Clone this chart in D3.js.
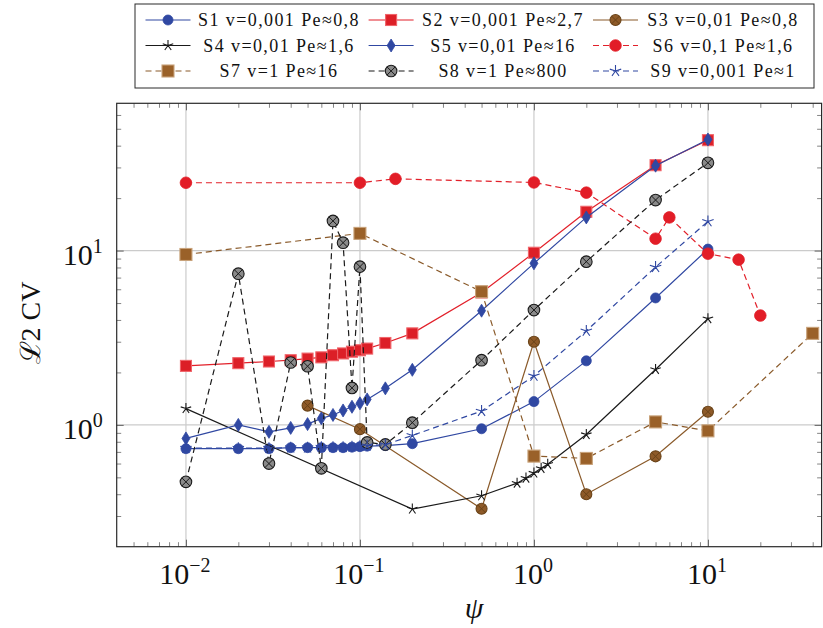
<!DOCTYPE html>
<html><head><meta charset="utf-8">
<script src="https://cdn.jsdelivr.net/npm/d3@7"></script>
<style>body{margin:0;background:#fff}svg{display:block}</style>
</head><body>
<svg id="c" width="823" height="628"></svg>
<script>
// ---------------- data ----------------
const xFine = [0.01,0.02,0.03,0.04,0.05,0.06,0.07,0.08,0.09,0.1,0.11,0.14,0.2,0.5,1,2,5,10];
const s1Y = [0.73,0.73,0.73,0.74,0.74,0.74,0.74,0.74,0.745,0.75,0.755,0.76,0.78,0.95,1.36,2.33,5.35,10.2];
const s2Y = [2.18,2.26,2.31,2.35,2.40,2.44,2.51,2.57,2.63,2.68,2.74,2.95,3.35,5.75,9.72,16.7,30.9,43];
const s3X = [0.05,0.1,0.5,1,2,5,10];
const s3Y = [1.29,0.945,0.33,3.0,0.40,0.66,1.19];
const s4X = [0.01,0.2,0.5,0.8,0.9,1,1.1,1.2,2,5,10];
const s4Y = [1.24,0.329,0.392,0.463,0.495,0.529,0.563,0.595,0.88,2.08,4.07];
const s5Y = [0.836,1.0,0.912,0.961,1.01,1.09,1.14,1.21,1.27,1.33,1.40,1.62,2.07,4.52,8.45,15.5,30.7,43.4];
const s6X = [0.01,0.1,0.16,1,2,5,6,10,15,20];
const s6Y = [24.5,24.5,25.8,24.6,21.5,11.7,15.5,9.6,8.87,4.24];
const s7X = [0.01,0.1,0.5,1,2,5,10,40];
const s7Y = [9.5,12.55,5.81,0.662,0.642,1.04,0.924,3.35];
const s8Y = [0.471,7.37,0.60,2.28,2.17,0.563,14.8,11.1,1.63,8.09,0.793,0.772,1.03,2.35,4.56,8.64,19.5,31.9];
const s9Y = [0.735,0.735,0.735,0.74,0.74,0.745,0.745,0.745,0.75,0.755,0.76,0.77,0.87,1.20,1.91,3.46,8.04,14.7];
const seriesNames = ["S1 v=0,001 Pe≈0,8","S2 v=0,001 Pe≈2,7","S3 v=0,01 Pe≈0,8",
                     "S4 v=0,01 Pe≈1,6","S5 v=0,01 Pe≈16","S6 v=0,1 Pe≈1,6",
                     "S7 v=1 Pe≈16","S8 v=1 Pe≈800","S9 v=0,001 Pe≈1"];
const xTickVals = [0.01,0.1,1,10];
const xTickExp = ["−2","−1","0","1"];
const yTickVals = [1,10];
const yTickExp = ["0","1"];

// ---------------- styles ----------------
const BLUE="#3048a2", RED="#e2202a", BROWN="#8a5a2a", BLACK="#1a1a1a";
const styles = [
  {c:BLUE, dash:null, m:"circle", fill:BLUE, stroke:BLUE, s:5},
  {c:RED, dash:null, m:"square", fill:"#dc1f27", stroke:"#f0646a", s:5.5},
  {c:BROWN, dash:null, m:"otimes", fill:"#8e5a28", stroke:"#6a4318", s:5.5},
  {c:BLACK, dash:null, m:"star", fill:"none", stroke:BLACK, s:5.5},
  {c:BLUE, dash:null, m:"diamond", fill:BLUE, stroke:BLUE, s:5},
  {c:RED, dash:"6,4", m:"circle", fill:"#e21d27", stroke:"#e21d27", s:5.8},
  {c:BROWN, dash:"6,4", m:"square", fill:"#9a6129", stroke:"#c8a27a", s:6},
  {c:BLACK, dash:"6,4", m:"otimes", fill:"#8a8a8a", stroke:"#1a1a1a", s:5.8},
  {c:BLUE, dash:"6,4", m:"star", fill:"none", stroke:BLUE, s:6}
];
const seriesData = [
  [xFine,s1Y],[xFine,s2Y],[s3X,s3Y],[s4X,s4Y],[xFine,s5Y],
  [s6X,s6Y],[s7X,s7Y],[xFine,s8Y],[xFine,s9Y]
];

// ---------------- layout ----------------
const P = {l:116.7, r:821.6, t:103.3, b:546.7};
const x = d3.scaleLog().domain([0.004,45]).range([P.l,P.r]);
const y = d3.scaleLog().domain([0.2,70]).range([P.b,P.t]);
const svg = d3.select("#c");
const FONT = "Liberation Serif";

// grid
const grid = svg.append("g").attr("stroke","#cbcbcb").attr("stroke-width",1.2);
xTickVals.forEach(v=>grid.append("line").attr("x1",x(v)).attr("x2",x(v)).attr("y1",P.t).attr("y2",P.b));
yTickVals.forEach(v=>grid.append("line").attr("y1",y(v)).attr("y2",y(v)).attr("x1",P.l).attr("x2",P.r));

// minor tick values
function minors(scale){
  const [a,b]=scale.domain(); const out=[];
  for(let e=Math.floor(Math.log10(a)); e<=Math.ceil(Math.log10(b)); e++)
    for(let k=2;k<=9;k++){const v=k*Math.pow(10,e); if(v>a&&v<b) out.push(v);}
  return out;
}
function styleAxis(g,col){ g.select(".domain").remove(); g.selectAll("line").attr("stroke",col).attr("stroke-width",0.9); }
const xMin = minors(x), yMin = minors(y);
[[d3.axisBottom,P.b],[d3.axisTop,P.t]].forEach(([f,pos])=>{
  svg.append("g").attr("transform",`translate(0,${pos})`).call(f(x).tickValues(xMin).tickSizeInner(-4.5).tickSizeOuter(0).tickFormat(()=>"")).call(g=>styleAxis(g,"#777"));
  svg.append("g").attr("transform",`translate(0,${pos})`).call(f(x).tickValues(xTickVals).tickSizeInner(-7).tickSizeOuter(0).tickFormat(()=>"")).call(g=>styleAxis(g,"#555"));
});
[[d3.axisLeft,P.l],[d3.axisRight,P.r]].forEach(([f,pos])=>{
  svg.append("g").attr("transform",`translate(${pos},0)`).call(f(y).tickValues(yMin).tickSizeInner(-4.5).tickSizeOuter(0).tickFormat(()=>"")).call(g=>styleAxis(g,"#777"));
  svg.append("g").attr("transform",`translate(${pos},0)`).call(f(y).tickValues(yTickVals).tickSizeInner(-7).tickSizeOuter(0).tickFormat(()=>"")).call(g=>styleAxis(g,"#555"));
});

// tick labels
xTickVals.forEach((v,i)=>{
  const t = svg.append("text").attr("x",x(v)-1).attr("y",P.b+37).attr("text-anchor","middle")
    .attr("font-family",FONT).attr("font-size",30).attr("fill","#111");
  t.append("tspan").text("10");
  t.append("tspan").attr("font-size",20).attr("dy",-12).text(xTickExp[i]);
});
yTickVals.forEach((v,i)=>{
  const t = svg.append("text").attr("x",P.l-14).attr("y",y(v)+14).attr("text-anchor","end")
    .attr("font-family",FONT).attr("font-size",30).attr("fill","#111");
  t.append("tspan").text("10");
  t.append("tspan").attr("font-size",20).attr("dy",-12).text(yTickExp[i]);
});

// axis titles
svg.append("text").attr("transform","translate(40,323) rotate(-90)").attr("text-anchor","middle")
  .attr("font-family",FONT).attr("font-size",28).attr("fill","#111").text("ℒ2 CV");
svg.append("text").attr("x",474).attr("y",618).attr("text-anchor","middle")
  .attr("font-family",FONT).attr("font-style","italic").attr("font-size",30).attr("fill","#111").text("ψ");

// marker drawing
function marker(g, st){
  const s = st.s;
  if(st.m==="circle"){
    g.append("circle").attr("r",s).attr("fill",st.fill).attr("stroke",st.stroke).attr("stroke-width",0.8);
  } else if(st.m==="square"){
    g.append("rect").attr("x",-s).attr("y",-s).attr("width",2*s).attr("height",2*s)
      .attr("fill",st.fill).attr("stroke",st.stroke).attr("stroke-width",1.1);
  } else if(st.m==="diamond"){
    g.append("path").attr("d",`M0,${-s*1.3}L${s*0.8},0L0,${s*1.3}L${-s*0.8},0Z`)
      .attr("fill",st.fill).attr("stroke",st.stroke).attr("stroke-width",0.8);
  } else if(st.m==="star"){
    let d=""; for(let k=0;k<5;k++){const a=(-90+72*k)*Math.PI/180; d+=`M0,0L${s*Math.cos(a)},${s*Math.sin(a)}`;}
    g.append("path").attr("d",d).attr("fill","none").attr("stroke",st.stroke).attr("stroke-width",1.1);
  } else if(st.m==="otimes"){
    g.append("circle").attr("r",s).attr("fill",st.fill).attr("stroke",st.stroke).attr("stroke-width",1.1);
    const q=s*0.707;
    g.append("path").attr("d",`M${-q},${-q}L${q},${q}M${-q},${q}L${q},${-q}`).attr("stroke",st.stroke).attr("stroke-width",1);
  }
}

// series
const line = d3.line().x(d=>x(d[0])).y(d=>y(d[1]));
seriesData.forEach(([xs,ys],i)=>{
  const st = styles[i];
  const pts = xs.map((v,j)=>[v,ys[j]]);
  const g = svg.append("g");
  g.append("path").datum(pts).attr("d",line).attr("fill","none").attr("stroke",st.c)
    .attr("stroke-width",1.2).attr("stroke-dasharray",st.dash);
  pts.forEach(p=>marker(g.append("g").attr("transform",`translate(${x(p[0])},${y(p[1])})`),st));
});

// frame
svg.append("rect").attr("x",P.l).attr("y",P.t).attr("width",P.r-P.l).attr("height",P.b-P.t)
  .attr("fill","none").attr("stroke","#2a2a2a").attr("stroke-width",1.2);

// legend
const L = svg.append("g");
L.append("rect").attr("x",135).attr("y",4).attr("width",679).attr("height",84)
  .attr("fill","#fff").attr("stroke","#2a2a2a").attr("stroke-width",1);
const colX = [145.5,368.6,593], colText=[279,503,723], rowY=[20,45.5,71];
seriesNames.forEach((name,i)=>{
  const st = styles[i], cx = colX[i%3], cy = rowY[Math.floor(i/3)];
  L.append("line").attr("x1",cx).attr("x2",cx+45).attr("y1",cy).attr("y2",cy)
    .attr("stroke",st.c).attr("stroke-width",1.2).attr("stroke-dasharray",st.dash);
  marker(L.append("g").attr("transform",`translate(${cx+22.5},${cy})`),st);
  L.append("text").attr("x",colText[i%3]).attr("y",cy+6).attr("text-anchor","middle")
    .attr("font-family",FONT).attr("font-size",18).attr("letter-spacing",1.4).attr("fill","#111")
    .text(name);
});
</script>
</body></html>
